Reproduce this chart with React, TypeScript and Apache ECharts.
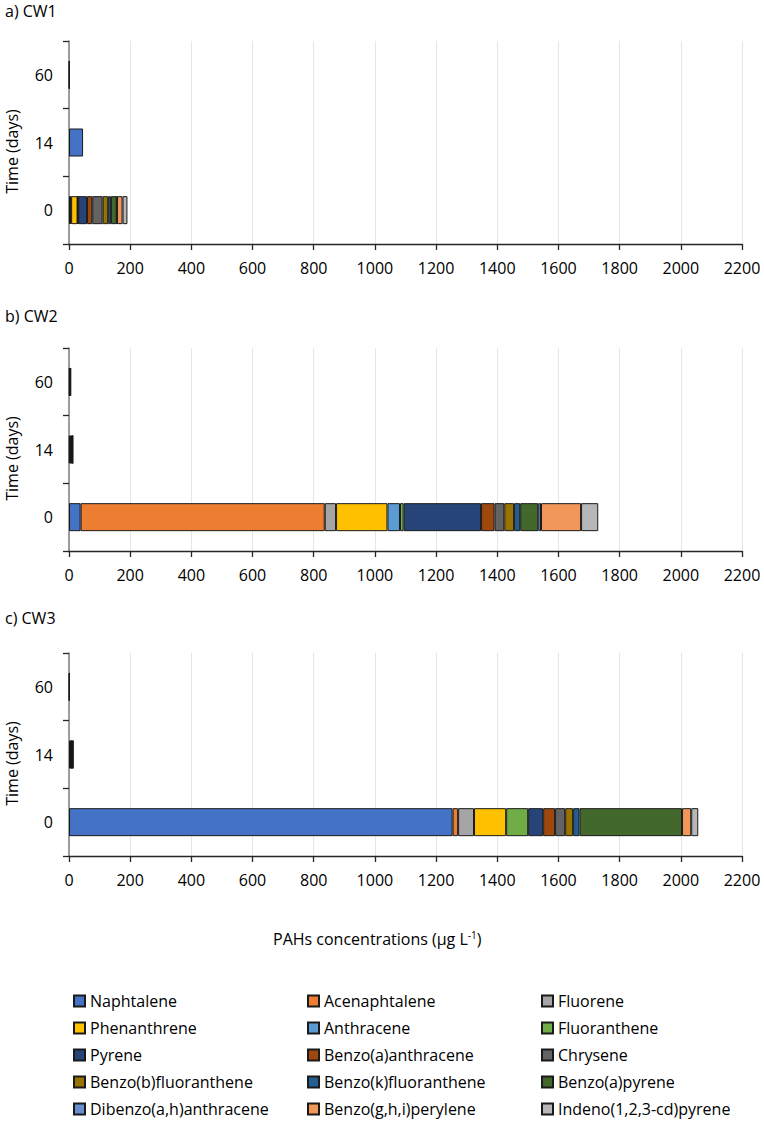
import React, { useEffect, useRef } from "react";
import * as echarts from "echarts";

const compounds = [
  "Naphtalene",
  "Acenaphtalene",
  "Fluorene",
  "Phenanthrene",
  "Anthracene",
  "Fluoranthene",
  "Pyrene",
  "Benzo(a)anthracene",
  "Chrysene",
  "Benzo(b)fluoranthene",
  "Benzo(k)fluoranthene",
  "Benzo(a)pyrene",
  "Dibenzo(a,h)anthracene",
  "Benzo(g,h,i)perylene",
  "Indeno(1,2,3-cd)pyrene",
];

const colors = [
  "#4472C4",
  "#ED7D31",
  "#A5A5A5",
  "#FFC000",
  "#5B9BD5",
  "#70AD47",
  "#264478",
  "#9E480E",
  "#636363",
  "#997300",
  "#255E91",
  "#43682B",
  "#698ED0",
  "#F1975A",
  "#B7B7B7",
];

const timeLabels = ["0", "14", "60"];
const xTicks = { min: 0, max: 2200, interval: 200 };

// values per compound (same order as compounds), µg/L
const cw1Day0 = [3, 2, 2, 21, 1, 1, 29, 17, 34, 18, 9, 19, 1, 18, 16];
const cw1Day14 = [46, 0, 0, 0, 0, 0, 0, 0, 0, 0, 0, 0, 0, 0, 0];
const cw1Day60 = [1, 0, 0, 0, 0, 0, 1, 0, 0, 0, 0, 0, 0, 0, 0];

const cw2Day0 = [38, 798, 37, 168, 41, 12, 253, 44, 32, 32, 20, 59, 9, 131, 56];
const cw2Day14 = [2, 3, 1, 2, 0, 0, 2, 1, 0, 1, 0, 0, 0, 1, 0];
const cw2Day60 = [0, 2, 0, 1, 0, 0, 1, 0, 0, 0, 0, 1, 0, 1, 0];

const cw3Day0 = [1254, 18, 52, 105, 0, 72, 49, 39, 33, 26, 21, 335, 0, 30, 23];
const cw3Day14 = [4, 0, 1, 2, 0, 1, 2, 0, 1, 0, 0, 2, 0, 1, 0];
const cw3Day60 = [1, 0, 0, 1, 0, 0, 0, 0, 0, 0, 0, 0, 0, 0, 0];

const panelTitles = ["a) CW1", "b) CW2", "c) CW3"];
const panels = [
  [cw1Day0, cw1Day14, cw1Day60],
  [cw2Day0, cw2Day14, cw2Day60],
  [cw3Day0, cw3Day14, cw3Day60],
];

const FONT = "'Open Sans', 'Noto Sans', sans-serif";

export default function App() {
  const ref = useRef<HTMLDivElement>(null);

  useEffect(() => {
    if (!ref.current) return;
    const chart = echarts.init(ref.current, undefined, { renderer: "svg" });

    const gridTops = [41, 348, 653];
    const gridH = 203;
    const titleY = [13, 318, 620];

    const grids = gridTops.map((t) => ({
      left: 69,
      right: 22,
      top: t,
      height: gridH,
      containLabel: false,
    }));

    const xAxes = gridTops.map((_, g) => ({
      type: "value",
      gridIndex: g,
      min: xTicks.min,
      max: xTicks.max,
      interval: xTicks.interval,
      axisLine: { show: true, lineStyle: { color: "#262626", width: 1.3 } },
      axisTick: { show: true, length: 6, lineStyle: { color: "#262626", width: 1.3 } },
      axisLabel: {
        color: "#000",
        fontSize: 16,
        fontFamily: FONT,
        margin: 16,
        formatter: (v: number) => String(v),
      },
      splitLine: { show: true, lineStyle: { color: "#e6e6e6", width: 1 } },
    }));

    const yAxes = gridTops.map((_, g) => ({
      type: "category",
      gridIndex: g,
      data: timeLabels,
      axisLine: { show: true, lineStyle: { color: "#7f7f7f", width: 1.5 } },
      axisTick: { show: true, length: 6, lineStyle: { color: "#262626", width: 1.3 } },
      axisLabel: { color: "#000", fontSize: 16, fontFamily: FONT, margin: 16 },
      splitLine: { show: false },
    }));

    const series: any[] = [];
    panels.forEach((days, g) => {
      compounds.forEach((name, i) => {
        series.push({
          type: "bar",
          name,
          xAxisIndex: g,
          yAxisIndex: g,
          stack: "cw" + g,
          barWidth: 28,
          data: [days[0][i], days[1][i], days[2][i]].map((v) => (v === 0 ? null : v)),
          itemStyle: { color: colors[i], borderColor: "#1a1a1a", borderWidth: 1 },
          emphasis: { disabled: true },
        });
      });
    });

    const legendCols = [
      [0, 3, 6, 9, 12],
      [1, 4, 7, 10, 13],
      [2, 5, 8, 11, 14],
    ];
    const legendLefts = [73, 307, 541];
    const legends = legendCols.map((col, c) => ({
      orient: "vertical",
      left: legendLefts[c],
      top: 993,
      width: 220,
      height: 128,
      padding: 0,
      itemWidth: 11,
      itemHeight: 11,
      itemGap: 11,
      selectedMode: false,
      icon: "rect",
      data: col.map((i) => compounds[i]),
      textStyle: { color: "#000", fontSize: 16, lineHeight: 16, fontFamily: FONT },
    }));

    const graphics: any[] = [];
    panelTitles.forEach((t, g) => {
      graphics.push({
        type: "text",
        left: 5,
        top: titleY[g] - 10,
        style: { text: t, fontSize: 16, fontFamily: FONT, fill: "#000" },
      });
      graphics.push({
        type: "text",
        x: 12,
        y: gridTops[g] + gridH / 2 + 9,
        rotation: Math.PI / 2,
        style: {
          text: "Time (days)",
          fontSize: 16,
          fontFamily: FONT,
          fill: "#000",
          align: "center",
          verticalAlign: "middle",
        },
      });
    });
    graphics.push({
      type: "text",
      left: 273,
      top: 930,
      style: {
        text: "{n|PAHs concentrations (µg L}{s|-1}{n|)}",
        rich: {
          n: { fontSize: 16, fontFamily: FONT, fill: "#000", color: "#000" },
          s: { fontSize: 10, fontFamily: FONT, fill: "#000", color: "#000", verticalAlign: "top", padding: [0, 0, 8, 0] },
        },
        fill: "#000",
      },
    });

    chart.setOption({
      animation: false,
      backgroundColor: "#fff",
      grid: grids,
      xAxis: xAxes,
      yAxis: yAxes,
      series,
      legend: legends,
      graphic: graphics,
    });

    return () => chart.dispose();
  }, []);

  return (
    <div
      ref={ref}
      style={{ position: "absolute", left: 0, top: 0, width: 764, height: 1122 }}
    />
  );
}
